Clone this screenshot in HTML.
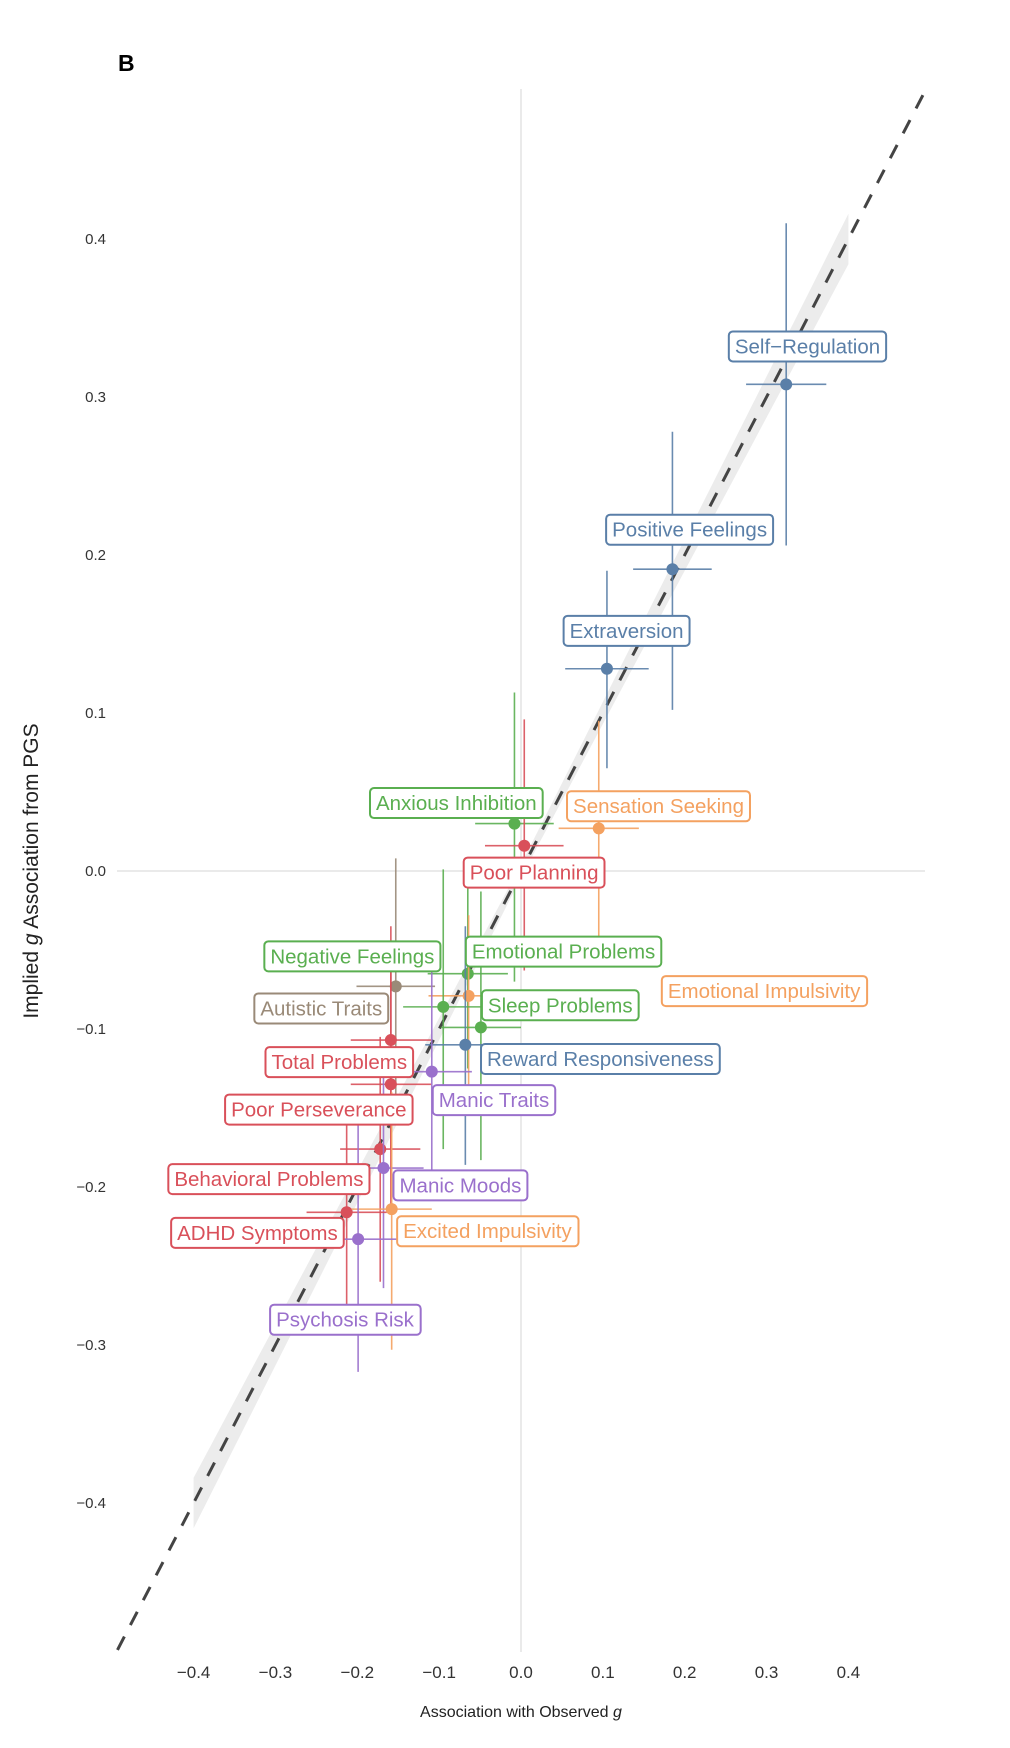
<!DOCTYPE html>
<html><head><meta charset="utf-8"><style>
html,body{margin:0;padding:0;background:#fff;}
svg{display:block;font-family:"Liberation Sans",sans-serif;}
</style></head><body>
<svg id="chart" width="1010" height="1748" viewBox="0 0 1010 1748">
<text x="118" y="71" font-size="23" font-weight="bold">B</text>
<g id="grid"></g>
<g id="ribbon"></g>
<g id="diag"></g>
<g id="marks"></g>
<g id="labels"></g>
<g id="xticks"></g>
<g id="yticks"></g>
<text x="521" y="1717" font-size="16" text-anchor="middle" fill="#222">Association with Observed <tspan font-style="italic">g</tspan></text>
<text transform="translate(38,871) rotate(-90)" font-size="21" text-anchor="middle" fill="#222">Implied <tspan font-style="italic">g</tspan> Association from PGS</text>
</svg>
<script>
const names=["Self\u2212Regulation","Positive Feelings","Extraversion","Sensation Seeking","Anxious Inhibition","Poor Planning","Emotional Problems","Emotional Impulsivity","Sleep Problems","Negative Feelings","Autistic Traits","Reward Responsiveness","Manic Traits","Total Problems","Poor Perseverance","Behavioral Problems","Manic Moods","ADHD Symptoms","Excited Impulsivity","Psychosis Risk"];
const groups=["blue","blue","blue","orange","green","red","green","orange","green","green","brown","blue","purple","red","red","red","purple","red","orange","purple"];
const xVals=[0.324,0.185,0.105,0.095,-0.008,0.004,-0.065,-0.064,-0.049,-0.095,-0.153,-0.068,-0.109,-0.159,-0.159,-0.172,-0.168,-0.213,-0.158,-0.199];
const yVals=[0.308,0.191,0.128,0.027,0.030,0.016,-0.065,-0.079,-0.099,-0.086,-0.073,-0.110,-0.127,-0.107,-0.135,-0.176,-0.188,-0.216,-0.214,-0.233];
const yHi=[0.410,0.278,0.190,0.095,0.113,0.096,-0.006,-0.028,-0.013,0.001,0.008,-0.035,-0.049,-0.035,-0.063,-0.105,-0.112,-0.144,-0.140,-0.155];
const yLo=[0.206,0.102,0.065,-0.042,-0.070,-0.063,-0.125,-0.155,-0.183,-0.176,-0.155,-0.186,-0.204,-0.176,-0.211,-0.260,-0.264,-0.292,-0.303,-0.317];
const xErr=[0.049,0.048,0.051,0.049,0.048,0.048,0.049,0.049,0.049,0.049,0.048,0.049,0.049,0.049,0.049,0.049,0.049,0.049,0.049,0.049];
const labelX=[0.350,0.206,0.129,0.168,-0.079,0.016,0.052,0.297,0.048,-0.206,-0.244,0.097,-0.033,-0.222,-0.247,-0.308,-0.074,-0.322,-0.041,-0.215];
const labelY=[0.332,0.216,0.152,0.041,0.043,-0.001,-0.051,-0.076,-0.085,-0.054,-0.087,-0.119,-0.145,-0.121,-0.151,-0.195,-0.199,-0.229,-0.228,-0.284];
const xTicks=[-0.4,-0.3,-0.2,-0.1,0,0.1,0.2,0.3,0.4];
const yTicks=[0.4,0.3,0.2,0.1,0,-0.1,-0.2,-0.3,-0.4];
const colors={blue:"#5a7fa8",orange:"#f4a160",green:"#5aaf50",red:"#d9505a",purple:"#9a70cc",brown:"#9a8a78"};
const X=v=>521+v*818.5, Y=v=>871-v*1580;
const NS="http://www.w3.org/2000/svg";
function mk(parent,tag,attrs){const e=document.createElementNS(NS,tag);for(const k in attrs)e.setAttribute(k,attrs[k]);parent.appendChild(e);return e;}
const grid=document.getElementById('grid');
let gl=mk(grid,'line',{x1:X(0),x2:X(0),y1:89,y2:1652,stroke:"#e3e3e3","stroke-width":1.5});


gl=mk(grid,'line',{x1:117,x2:925,y1:Y(0),y2:Y(0),stroke:"#e3e3e3","stroke-width":1.5});


const rib=document.getElementById('ribbon');
const hw=v=>0.004+0.03*Math.abs(v);
let pts=[];for(let v=-0.4;v<=0.4001;v+=0.02)pts.push(X(v)+","+Y(v+hw(v)));
for(let v=0.4;v>=-0.4001;v-=0.02)pts.push(X(v)+","+Y(v-hw(v)));
const rp=mk(rib,'polygon',{points:pts.join(" "),fill:"#ececec"});


const dl=mk(document.getElementById('diag'),'line',{x1:X(-0.493),y1:Y(-0.493),x2:X(0.495),y2:Y(0.495),stroke:"#444","stroke-width":3,"stroke-dasharray":"15 13"});


const marks=document.getElementById('marks');
names.forEach((n,i)=>{
  const c=colors[groups[i]];
  const g=mk(marks,'g',{});
  
  
  mk(g,'line',{x1:X(xVals[i]),x2:X(xVals[i]),y1:Y(yHi[i]),y2:Y(yLo[i]),stroke:c,"stroke-width":1.6,opacity:0.9});
  mk(g,'line',{x1:X(xVals[i]-xErr[i]),x2:X(xVals[i]+xErr[i]),y1:Y(yVals[i]),y2:Y(yVals[i]),stroke:c,"stroke-width":1.6,opacity:0.9});
  mk(g,'circle',{cx:X(xVals[i]),cy:Y(yVals[i]),r:6,fill:c});
});
const labels=document.getElementById('labels');
names.forEach((n,i)=>{
  const c=colors[groups[i]];
  const g=mk(labels,'g',{});
  
  
  const r=mk(g,'rect',{fill:"#fff",stroke:c,"stroke-width":2,rx:4});
  const t=mk(g,'text',{x:X(labelX[i]),y:Y(labelY[i])+7,"text-anchor":"middle","font-size":20.5,fill:c});
  t.textContent=n;
  const b=t.getBBox();
  r.setAttribute('x',b.x-6);r.setAttribute('y',Y(labelY[i])-15);
  r.setAttribute('width',b.width+12);r.setAttribute('height',30);
});
const xt=document.getElementById('xticks');
xTicks.forEach(v=>{
  const t=mk(xt,'text',{x:X(v),y:1678,"text-anchor":"middle","font-size":17,fill:"#333"});
  
  
  t.textContent=(v<0?"\u2212":"")+Math.abs(v).toFixed(1);
});
const yt=document.getElementById('yticks');
yTicks.forEach(v=>{
  const t=mk(yt,'text',{x:106,y:Y(v)+5,"text-anchor":"end","font-size":15,fill:"#333"});
  
  
  t.textContent=(v<0?"\u2212":"")+Math.abs(v).toFixed(1);
});
</script>
</body></html>
